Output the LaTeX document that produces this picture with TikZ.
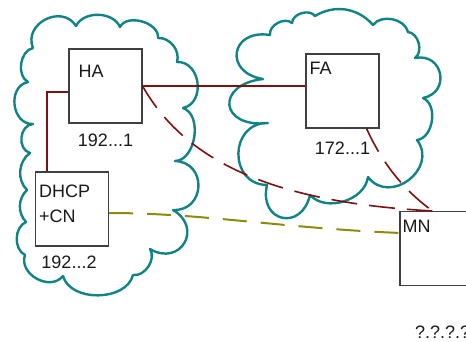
\documentclass[tikz,border=0pt]{standalone}
\usepackage{fontspec}
\setmainfont{Liberation Sans}
\usetikzlibrary{positioning,calc}
\definecolor{cTeal}{RGB}{16,132,132}
\definecolor{cRed}{RGB}{128,16,16}
\definecolor{cOlive}{RGB}{140,140,10}
\definecolor{cBox}{RGB}{64,64,64}

\begin{document}
\begin{tikzpicture}[x=1pt,y=-1pt,font=\fontsize{18}{25}\selectfont,
  box/.style={draw=cBox,line width=1.1pt,minimum width=73pt,minimum height=74pt,inner sep=0},
  lbl/.style={inner sep=0,text=black!90},
  cloudline/.style={draw=cTeal,line width=2.4pt,line join=round,line cap=round},
  wire/.style={cRed,line width=2pt},
  dwire/.style={cRed,line width=1.6pt,dash pattern=on 26pt off 12pt},
  owire/.style={cOlive,line width=2pt,dash pattern=on 24pt off 14pt}]

  \useasboundingbox (0,0) rectangle (466,341);
  \clip (0,0) rectangle (466,341);

  % ---- home network cloud ----
  \draw[cloudline] (33,48) to[bend left=85,looseness=1.4] (76,26)
    to[bend left=65] (120,27) to[bend left=80] (158,38)
    to[bend left=55] (177,62) to[bend left=85,looseness=1.3] (183,108)
    to[bend left=80] (175,161) to[bend left=90,looseness=1.7] (173,210)
    to[bend left=90,looseness=2] (150,249) to[bend left=65] (133,275)
    to[bend left=75] (63,276) to[bend left=80,looseness=1.2] (25,255)
    to[bend left=65] (26,222) to[bend left=45] (27,190)
    to[bend left=50] (30,153) to[bend left=80,looseness=1.2] (33,124)
    to[bend left=85,looseness=1.3] (28,82) to[bend left=70] (33,48);

  % ---- foreign network cloud ----
  \draw[cloudline] (263,79) to[bend left=90,looseness=2.3] (270,35)
    to[bend left=70] (292,23) to[bend left=70] (315,16)
    to[bend left=40] (373,25) to[bend left=65] (408,32)
    to[bend left=70] (415,58) to[bend left=90,looseness=1.8] (423,98)
    to[bend left=75] (417,140) to[bend left=90,looseness=1.5] (368,177)
    to[bend left=65] (310,195) to[bend left=90,looseness=2.2] (267,185)
    to[bend left=90,looseness=1.6] (268,123) to[bend left=90,looseness=2.8] (263,79);

  % ---- hosts ----
  \node[box] (ha) at (105.5,86) {};
  \node[box] (fa) at (342.5,91) {};
  \node[box] (dhcp) at (72,209) {};
  \node[box] (mn) at (436.5,248.5) {};

  \node[lbl,anchor=north west] (haT) at ($(ha.north west)+(10,16)$) {HA};
  \node[lbl,anchor=north west] (faT) at ($(fa.north west)+(4,8)$) {FA};
  \node[lbl,anchor=north west,align=left] (dhcpT) at ($(dhcp.north west)+(4,13)$) {DHCP\\+CN};
  \node[lbl,anchor=north west] (mnT) at ($(mn.north west)+(3,9)$) {MN};

  \node[lbl,below=10pt of ha] (haIp) {192...1};
  \node[lbl,below=13pt of fa] (faIp) {172...1};
  \node[lbl,below=9pt of dhcp,xshift=-3pt] (dhcpIp) {192...2};
  \node[lbl,anchor=base west] (mnIp) at (415,338) {?.?.?.?};

  % ---- links ----
  \coordinate (mntop) at ($(mn.north west)+(33,0)$);
  \coordinate (fafoot) at ($(fa.south east)+(-13,0)$);
  \draw[wire] (ha.east) -- (ha.east -| fa.west);
  \draw[wire] ($(ha.west)+(0,6)$) -| ($(dhcp.north west)+(12,0)$);
  \draw[dwire] (ha.east) .. controls +(45,80) and +(-150,-8) .. (mntop);
  \draw[dwire] (fafoot) .. controls +(19,42) and +(-22,-16) .. (mntop);
  \draw[owire] ($(dhcp.east)+(0,4)$) .. controls +(92,0) and +(-119,-5) .. ($(mn.north west)+(0,22)$);

\end{tikzpicture}
\end{document}
